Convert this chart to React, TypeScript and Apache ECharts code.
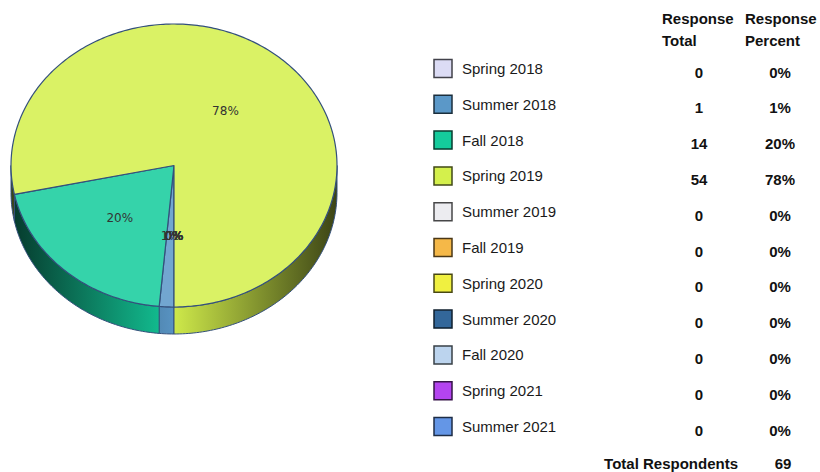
import React, { useEffect, useRef } from "react";
import * as echarts from "echarts";

// ---- data ----
const categories = [
  "Spring 2018", "Summer 2018", "Fall 2018", "Spring 2019", "Summer 2019", "Fall 2019",
  "Spring 2020", "Summer 2020", "Fall 2020", "Spring 2021", "Summer 2021",
];
const responseTotals = [0, 1, 14, 54, 0, 0, 0, 0, 0, 0, 0];
const totalRespondents = 69;
const headerTotal = ["Response", "Total"];
const headerPercent = ["Response", "Percent"];
const totalLabel = "Total Respondents";

// ---- styles ----
const colors = [
  "#dcdcf5", "#5b98c8", "#14cc9c", "#d4f04c", "#ececf0", "#f5b848",
  "#f0f040", "#33679a", "#bcd4ee", "#b444f0", "#6496e6",
];

const CX = 174, CY = 165.5, RX = 163, RY = 141.5, DEPTH = 27;
const OUTLINE = "#34507c";
const FONT = "'Liberation Sans', Arial, sans-serif";

function hexToRgb(h: string) {
  const n = parseInt(h.slice(1), 16);
  return [(n >> 16) & 255, (n >> 8) & 255, n & 255];
}
function rgb(a: number[]) {
  return "rgb(" + a.map((v) => Math.max(0, Math.min(255, Math.round(v)))).join(",") + ")";
}
function shade(h: string, f: number) {
  return rgb(hexToRgb(h).map((v) => v * f));
}
function tint(h: string, f: number) {
  return rgb(hexToRgb(h).map((v) => v + (255 - v) * f));
}

function pt(theta: number, r: number, dy: number) {
  return [CX - RX * r * Math.sin(theta), CY + RY * r * Math.cos(theta) + dy];
}
function arcPts(a: number, b: number, dy: number) {
  const n = Math.max(2, Math.ceil(Math.abs(b - a) / (Math.PI / 180)) + 1);
  const out: number[][] = [];
  for (let k = 0; k < n; k++) {
    const t = a + ((b - a) * k) / (n - 1);
    out.push(pt(t, 1, dy));
  }
  return out;
}

export default function App() {
  const ref = useRef<HTMLDivElement>(null);

  useEffect(() => {
    document.body.style.margin = "0";
    document.body.style.background = "#ffffff";
    if (!ref.current) return;
    const chart = echarts.init(ref.current, undefined, { renderer: "svg" });

    const total = responseTotals.reduce((s, v) => s + v, 0);
    const cum: number[] = [];
    let acc = 0;
    for (const v of responseTotals) {
      cum.push(acc);
      acc += v;
    }
    const pctText = (v: number) => Math.round((v / total) * 100) + "%";

    const renderItem = (params: any, api: any) => {
      const i = params.dataIndex;
      const v = api.value(0);
      const a = (cum[i] / total) * 2 * Math.PI;
      const b = a + (v / total) * 2 * Math.PI;
      const children: any[] = [];
      if (v > 0) {
        const ranges = [
          [0, Math.PI / 2],
          [1.5 * Math.PI, 2 * Math.PI],
        ];
        for (const [r0, r1] of ranges) {
          const s = Math.max(a, r0);
          const e = Math.min(b, r1);
          if (e > s) {
            const top = arcPts(s, e, 0);
            const bot = arcPts(s, e, DEPTH).reverse();
            children.push({
              type: "polygon",
              z2: 1,
              shape: { points: top.concat(bot) },
              style: {
                fill: new echarts.graphic.LinearGradient(
                  CX - RX, 0, CX + RX, 0,
                  [
                    { offset: 0, color: shade(colors[i], 0.28) },
                    { offset: 0.5, color: shade(colors[i], 0.97) },
                    { offset: 1, color: shade(colors[i], 0.28) },
                  ],
                  true
                ),
                stroke: OUTLINE,
                lineWidth: 1,
              },
            });
          }
        }
        children.push({
          type: "polygon",
          z2: 5,
          shape: { points: [[CX, CY]].concat(arcPts(a, b, 0)) },
          style: { fill: tint(colors[i], 0.14), stroke: OUTLINE, lineWidth: 1.2, lineJoin: "round" },
        });
      }
      const [lx, ly] = pt((a + b) / 2, 0.5, 0);
      children.push({
        type: "text",
        z2: 10,
        x: lx,
        y: ly,
        style: {
          text: pctText(v),
          fill: "#333333",
          fontSize: 12,
          fontFamily: "'DejaVu Sans', sans-serif",
          align: "center",
          verticalAlign: "middle",
        },
      });
      return { type: "group", children };
    };

    const rowY = (i: number) => 68.5 + i * 35.8;
    const graphic: any[] = [];
    const bold = { fontSize: 15, fontWeight: "bold", fontFamily: FONT, fill: "#111111" };
    headerTotal.forEach((t, k) =>
      graphic.push({ type: "text", x: 662, y: 18.5 + k * 22, style: { ...bold, text: t, align: "left", verticalAlign: "middle" } })
    );
    headerPercent.forEach((t, k) =>
      graphic.push({ type: "text", x: 745, y: 18.5 + k * 22, style: { ...bold, text: t, align: "left", verticalAlign: "middle" } })
    );
    categories.forEach((c, i) => {
      const y = rowY(i);
      graphic.push({
        type: "rect",
        shape: { x: 434, y: y - 9, width: 18, height: 18 },
        style: { fill: colors[i], stroke: shade(colors[i], 0.3), lineWidth: 1.5 },
      });
      graphic.push({
        type: "text",
        x: 462,
        y: y,
        style: { text: c, fontSize: 15, fontFamily: FONT, fill: "#1a1a1a", align: "left", verticalAlign: "middle" },
      });
      graphic.push({
        type: "text",
        x: 699,
        y: y + 3.5,
        style: { ...bold, text: String(responseTotals[i]), align: "center", verticalAlign: "middle" },
      });
      graphic.push({
        type: "text",
        x: 780,
        y: y + 3.5,
        style: { ...bold, text: pctText(responseTotals[i]), align: "center", verticalAlign: "middle" },
      });
    });
    graphic.push({
      type: "text",
      x: 738,
      y: 463,
      style: { ...bold, text: totalLabel, align: "right", verticalAlign: "middle" },
    });
    graphic.push({
      type: "text",
      x: 783,
      y: 463,
      style: { ...bold, text: String(totalRespondents), align: "center", verticalAlign: "middle" },
    });

    chart.setOption({
      animation: false,
      backgroundColor: "#ffffff",
      graphic,
      series: [
        {
          type: "custom",
          coordinateSystem: "none",
          renderItem,
          silent: true,
          data: responseTotals.map((v, i) => ({ name: categories[i], value: [v] })),
        },
      ],
    });

    return () => chart.dispose();
  }, []);

  return <div ref={ref} style={{ width: 820, height: 472 }} />;
}
